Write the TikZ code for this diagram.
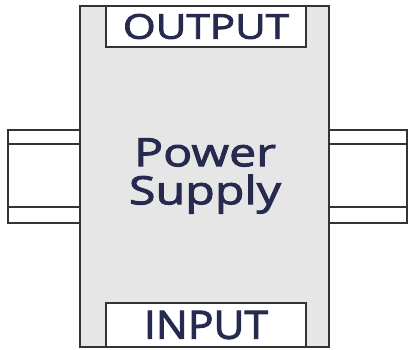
\documentclass[tikz,border=0pt]{standalone}
\usepackage{fontspec}
\setmainfont{Open Sans}
\newfontfamily\titrefont[FakeStretch=1.24, FakeBold=2.5]{Open Sans}
\newfontfamily\bornefont[FakeStretch=1.24, FakeBold=2.5]{Open Sans}
\newfontfamily\entreefont[FakeStretch=1.09, FakeBold=2.5]{Open Sans}
\usetikzlibrary{positioning}
\definecolor{cadre}{HTML}{333333}
\definecolor{boitier}{HTML}{E6E6E6}
\definecolor{texte}{HTML}{262A4E}
\tikzset{
  rail/.style={draw=cadre, line width=1.6pt, fill=white},
  borne/.style={rectangle, draw=cadre, line width=1.6pt, fill=white,
                minimum width=200pt, inner sep=0pt, text=texte},
}
\begin{document}
\begin{tikzpicture}[x=1pt, y=-1pt]
  \useasboundingbox (0,0) rectangle (408,349);
  % rails
  \draw[rail] (8,130) rectangle (80,223);
  \draw[cadre, line width=1.6pt] (8,144) -- (80,144) (8,207) -- (80,207);
  \draw[rail] (329,130) rectangle (407,223);
  \draw[cadre, line width=1.6pt] (329,144) -- (407,144) (329,207) -- (407,207);
  % boitier
  \node[rectangle, draw=cadre, line width=1.6pt, fill=boitier, minimum width=249pt,
        minimum height=341pt, inner sep=0pt] (supply) at (204.5,176.5) {};
  \node[align=center, text=texte, font=\titrefont\fontsize{39}{38}\selectfont] (label) at (205,176)
    {Power\\Supply};
  \node[borne, minimum height=41pt, font=\bornefont\fontsize{34}{34}\selectfont] (output) at (206,26.5) {OUTPUT};
  \node[borne, minimum height=44pt, font=\entreefont\fontsize{39}{39}\selectfont] (input) at (206,325) {INPUT};
\end{tikzpicture}
\end{document}
